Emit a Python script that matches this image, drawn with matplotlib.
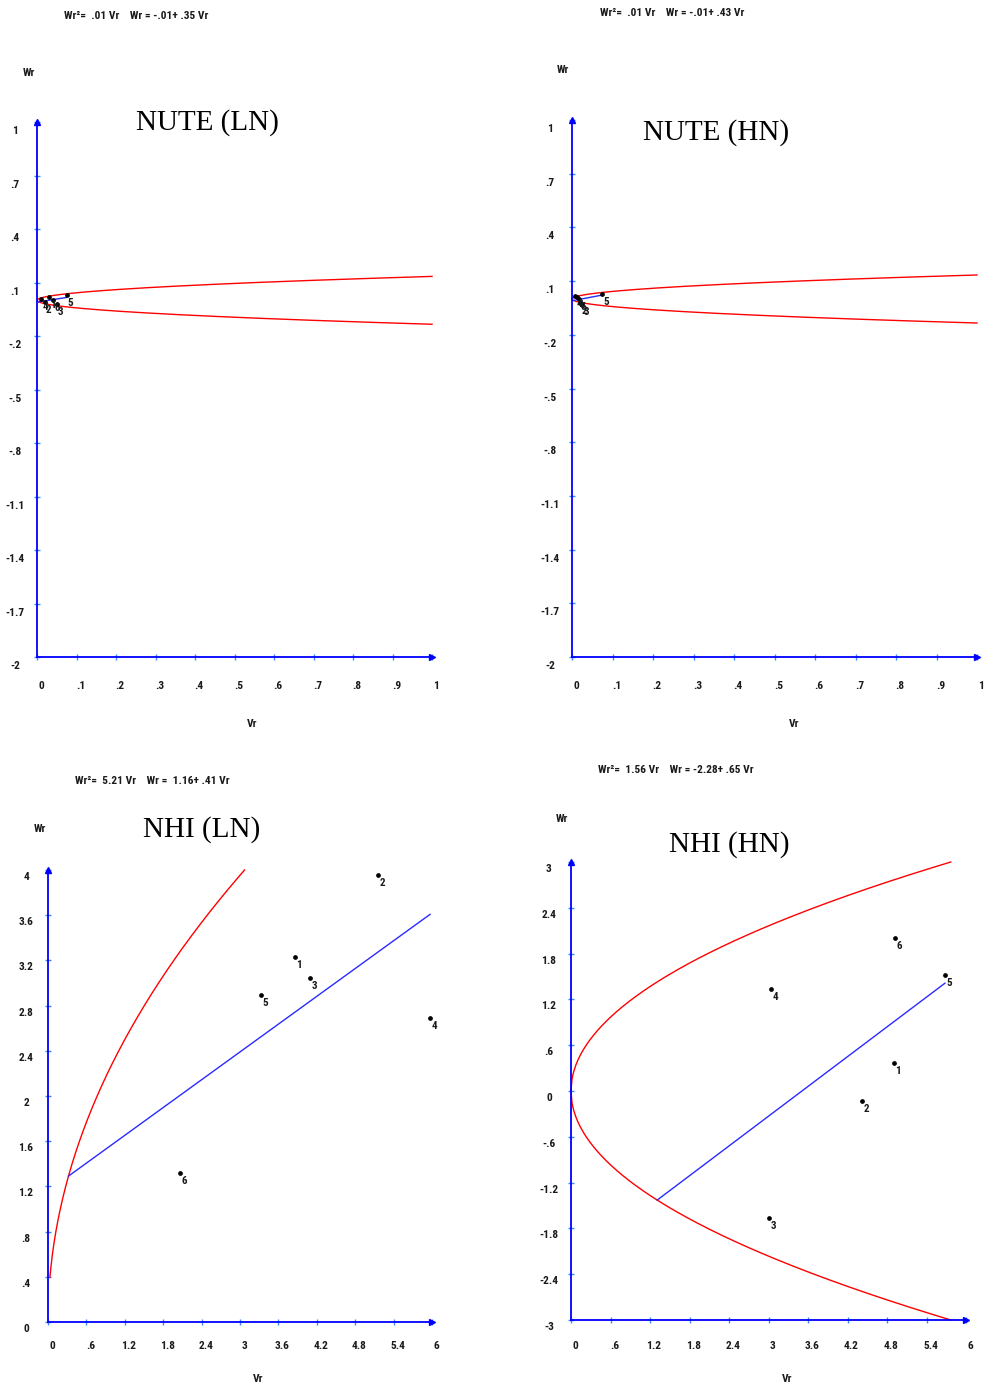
import numpy as np
import matplotlib
matplotlib.use('Agg')
import matplotlib.pyplot as plt
from matplotlib import font_manager
from matplotlib.transforms import offset_copy

W, H, DPI = 984, 1385, 100

# ---------------- data ----------------
genotypes = ['1', '2', '3', '4', '5', '6']

nute_ln_vr = [0.03, 0.02, 0.05, 0.01, 0.075, 0.04]
nute_ln_wr = [0.02, -0.01, -0.02, 0.005, 0.03, 0.0]

nute_hn_vr = [0.012, 0.02, 0.025, 0.008, 0.074, 0.018]
nute_hn_wr = [0.01, -0.02, -0.03, 0.015, 0.03, 0.0]

nhi_ln_vr = [3.86, 5.16, 4.10, 5.97, 3.33, 2.06]
nhi_ln_wr = [3.23, 3.96, 3.04, 2.69, 2.89, 1.32]

nhi_hn_vr = [4.91, 4.42, 3.01, 3.04, 5.68, 4.92]
nhi_hn_wr = [0.37, -0.13, -1.66, 1.34, 1.52, 2.00]

# parabola Wr^2 = c*Vr ; regression Wr = b + a*Vr
nute_ln_par, nute_ln_reg = 0.018, (-0.01, 0.35)
nute_hn_par, nute_hn_reg = 0.018, (-0.01, 0.43)
nhi_ln_par, nhi_ln_reg = 5.21, (1.16, 0.41)
nhi_hn_par, nhi_hn_reg = 1.56, (-2.28, 0.65)

nute_xticks = [0, .1, .2, .3, .4, .5, .6, .7, .8, .9, 1]
nute_xlabels = ['0', '.1', '.2', '.3', '.4', '.5', '.6', '.7', '.8', '.9', '1']
nute_yticks = [1, .7, .4, .1, -.2, -.5, -.8, -1.1, -1.4, -1.7, -2]
nute_ylabels = ['1', '.7', '.4', '.1', '-.2', '-.5', '-.8', '-1.1', '-1.4', '-1.7', '-2']

nhi_xticks = [0, .6, 1.2, 1.8, 2.4, 3, 3.6, 4.2, 4.8, 5.4, 6]
nhi_xlabels = ['0', '.6', '1.2', '1.8', '2.4', '3', '3.6', '4.2', '4.8', '5.4', '6']
nhi_ln_yticks = [4, 3.6, 3.2, 2.8, 2.4, 2, 1.6, 1.2, .8, .4, 0]
nhi_ln_ylabels = ['4', '3.6', '3.2', '2.8', '2.4', '2', '1.6', '1.2', '.8', '.4', '0']
nhi_hn_yticks = [3, 2.4, 1.8, 1.2, .6, 0, -.6, -1.2, -1.8, -2.4, -3]
nhi_hn_ylabels = ['3', '2.4', '1.8', '1.2', '.6', '0', '-.6', '-1.2', '-1.8', '-2.4', '-3']

# ---------------- font choice (narrow sans if available) ----------------
_fl = font_manager.fontManager.ttflist
_names = {f.name for f in _fl}
NSTRETCH = 'normal'
if 'Liberation Sans Narrow' in _names:
    NARROW, NSIZE = ['Liberation Sans Narrow', 'DejaVu Sans'], 9
elif 'Arial Narrow' in _names:
    NARROW, NSIZE = ['Arial Narrow', 'DejaVu Sans'], 9
elif 'Roboto Condensed' in _names:
    NARROW, NSIZE = ['Roboto Condensed', 'DejaVu Sans'], 8.2
elif any(f.name == 'DejaVu Sans' and str(f.stretch) in ('condensed', '75', 'semi-condensed')
         for f in _fl):
    NARROW, NSIZE, NSTRETCH = ['DejaVu Sans', 'DejaVu Sans'], 8, 'condensed'
else:
    NARROW, NSIZE = ['Liberation Sans', 'DejaVu Sans'], 7.5
SERIF = ['Liberation Serif', 'DejaVu Serif']
TXT = dict(family=NARROW, fontstretch=NSTRETCH, fontweight='bold', color='#1a1a1a')

fig = plt.figure(figsize=(W / DPI, H / DPI), dpi=DPI)
fig.patch.set_facecolor('white')


def ftext(x, y, s, **kw):
    fig.text(x / W, 1 - y / H, s, **kw)


def panel(box, xlim, ylim, xticks, xlabels, yticks, ylabels, par_c, reg, vr, wr,
          par_range, both_branches, header, header_xy, wr_xy, title, title_xy, vr_xy,
          xoff, yoff):
    left, top, right, bottom = box
    ax = fig.add_axes([left / W, 1 - bottom / H, (right - left) / W, (bottom - top) / H])
    ax.set_xlim(*xlim)
    ax.set_ylim(*ylim)
    for s in ['top', 'right']:
        ax.spines[s].set_visible(False)
    for s in ['left', 'bottom']:
        ax.spines[s].set_color('#0000ff')
        ax.spines[s].set_linewidth(1.3)
    ax.set_xticks(xticks)
    ax.set_yticks(yticks)
    ax.tick_params(direction='inout', length=5, width=1, colors='#3d8bff',
                   labelbottom=False, labelleft=False)
    # arrows
    ax.plot([xlim[0]], [ylim[1]], marker='^', color='#0000ff', ms=5, clip_on=False)
    ax.plot([xlim[1]], [ylim[0]], marker='>', color='#0000ff', ms=5, clip_on=False)
    # tick labels
    tx = offset_copy(ax.get_xaxis_transform(), fig=fig, x=4, y=-xoff, units='dots')
    for t, l in zip(xticks, xlabels):
        ax.text(t, 0, l, transform=tx, ha='center', va='center', fontsize=NSIZE, **TXT)
    ty = offset_copy(ax.get_yaxis_transform(), fig=fig, x=-22, y=-yoff, units='dots')
    for t, l in zip(yticks, ylabels):
        ax.text(0, t, l, transform=ty, ha='center', va='center', fontsize=NSIZE, **TXT)
    # parabola
    v = np.linspace(par_range[0], par_range[1], 400)
    ax.plot(v, np.sqrt(par_c * v), color='#ff0000', lw=1.0, clip_on=False)
    if both_branches:
        ax.plot(v, -np.sqrt(par_c * v), color='#ff0000', lw=1.0, clip_on=False)
    # regression line from its intersection with the parabola to the largest Vr
    b, a = reg
    roots = np.roots([a * a, 2 * a * b - par_c, b * b])
    roots = np.real(roots[np.isreal(roots)])
    v0 = roots.min() if len(roots) else 0.0
    v1 = max(vr)
    ax.plot([v0, v1], [b + a * v0, b + a * v1], color='#2a2aff', lw=1.0)
    # points
    ax.plot(vr, wr, 'o', color='black', ms=2.4, ls='none', zorder=5)
    lt = offset_copy(ax.transData, fig=fig, x=4, y=-8, units='dots')
    for x, y, g in zip(vr, wr, genotypes):
        ax.text(x, y, g, transform=lt, ha='center', va='center', fontsize=NSIZE - 0.3,
                zorder=6, **TXT)
    # texts
    ftext(header_xy[0], header_xy[1], header, ha='left', va='center', fontsize=NSIZE, **TXT)
    ftext(wr_xy[0], wr_xy[1], 'Wr', ha='center', va='center', fontsize=NSIZE, **TXT)
    ftext(vr_xy[0], vr_xy[1], 'Vr', ha='center', va='center', fontsize=NSIZE, **TXT)
    ftext(title_xy[0], title_xy[1], title, ha='center', va='center', fontsize=21,
          family=SERIF, color='black')
    return ax


panel((37, 122, 432, 657), (0, 1), (-2, 1), nute_xticks, nute_xlabels, nute_yticks,
      nute_ylabels, nute_ln_par, nute_ln_reg, nute_ln_vr, nute_ln_wr, (0, 1), True,
      'Wr\u00b2=  .01 Vr    Wr = -.01+ .35 Vr', (64, 16), (29, 73), 'NUTE (LN)',
      (207, 123), (252, 724), 29, 9)

panel((572, 120, 977, 657), (0, 1), (-2, 1), nute_xticks, nute_xlabels, nute_yticks,
      nute_ylabels, nute_hn_par, nute_hn_reg, nute_hn_vr, nute_hn_wr, (0, 1), True,
      'Wr\u00b2=  .01 Vr    Wr = -.01+ .43 Vr', (600, 13), (563, 70), 'NUTE (HN)',
      (716, 133), (794, 724), 29, 9)

panel((48, 870, 432, 1322), (0, 6), (0, 4), nhi_xticks, nhi_xlabels, nhi_ln_yticks,
      nhi_ln_ylabels, nhi_ln_par, nhi_ln_reg, nhi_ln_vr, nhi_ln_wr, (0.03, 16 / 5.21), False,
      'Wr\u00b2=  5.21 Vr    Wr =  1.16+ .41 Vr', (75, 781), (40, 829), 'NHI (LN)',
      (202, 830), (258, 1379), 24, 7)

panel((571, 862, 966, 1320), (0, 6), (-3, 3), nhi_xticks, nhi_xlabels, nhi_hn_yticks,
      nhi_hn_ylabels, nhi_hn_par, nhi_hn_reg, nhi_hn_vr, nhi_hn_wr, (0, 9 / 1.56), True,
      'Wr\u00b2=  1.56 Vr    Wr = -2.28+ .65 Vr', (598, 770), (562, 819), 'NHI (HN)',
      (729, 845), (787, 1379), 26, 7)

fig.savefig('out.png', dpi=DPI, facecolor='white')
